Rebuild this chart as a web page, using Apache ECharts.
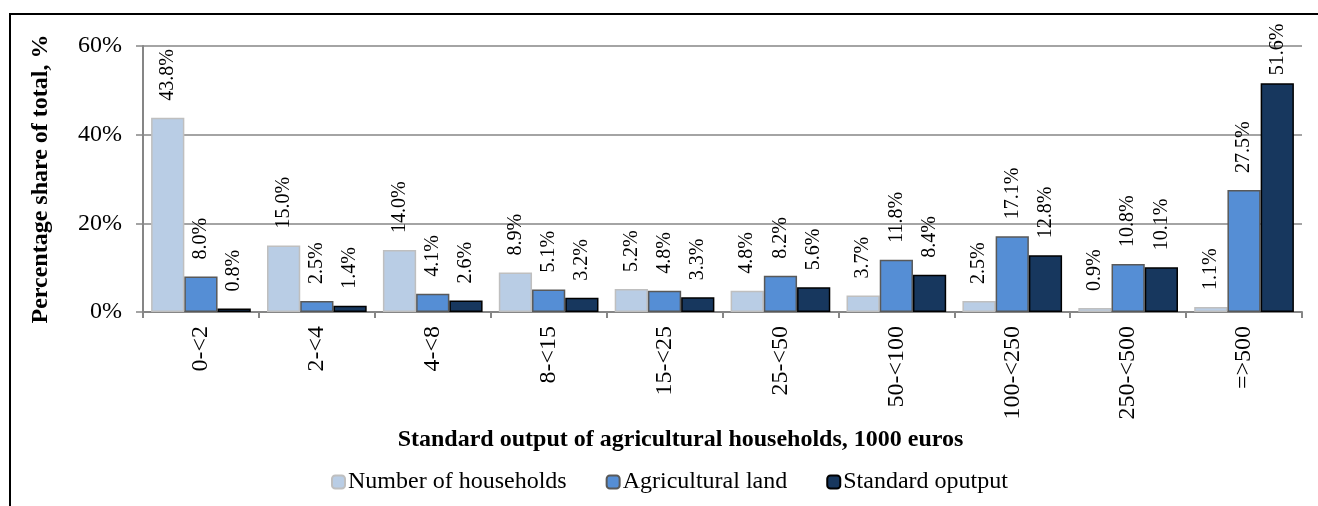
<!DOCTYPE html>
<html>
<head>
<meta charset="utf-8">
<script src="https://cdn.jsdelivr.net/npm/echarts@6/dist/echarts.min.js"></script>
<style>html,body{margin:0;padding:0;background:#fff}#c{width:1318px;height:506px}</style>
</head>
<body>
<div id="c"></div>
<script>
const categories = ['0-<2','2-<4','4-<8','8-<15','15-<25','25-<50','50-<100','100-<250','250-<500','=>500'];
const households = [43.8, 15.0, 14.0, 8.9, 5.2, 4.8, 3.7, 2.5, 0.9, 1.1];
const agriLand = [8.0, 2.5, 4.1, 5.1, 4.8, 8.2, 11.8, 17.1, 10.8, 27.5];
const stdOutput = [0.8, 1.4, 2.6, 3.2, 3.3, 5.6, 8.4, 12.8, 10.1, 51.6];
const seriesNames = ['Number of households', 'Agricultural land', 'Standard oputput'];
const yTicks = {min: 0, max: 60, interval: 20};

const FONT = '"Liberation Serif", "Times New Roman", serif';
const chart = echarts.init(document.getElementById('c'));

function label() {
  return {
    show: true, position: 'top', rotate: 90, align: 'left', verticalAlign: 'middle',
    distance: 17, fontFamily: FONT, fontSize: 20, color: '#000',
    formatter: p => p.value.toFixed(1) + '%'
  };
}
function mk(name, data, color, border) {
  return {
    name, type: 'bar', data, barGap: '0%', barCategoryGap: '14%',
    itemStyle: {color, borderColor: border, borderWidth: 1.5},
    label: label()
  };
}
const s3 = mk(seriesNames[2], stdOutput, '#17375e', '#000');
// the tallest label is pulled in to stay inside the chart frame
s3.data = stdOutput.map((v, i) => i === stdOutput.length - 1 ? {value: v, label: {distance: 8}} : v);

chart.setOption({
  animation: false,
  textStyle: {fontFamily: FONT},
  graphic: [{type: 'rect', shape: {x: 10, y: 14, width: 1400, height: 600}, style: {fill: 'none', stroke: '#000', lineWidth: 2}, silent: true}],
  grid: {left: 143, right: 16, top: 46, bottom: 194},
  legend: {
    bottom: 7, left: 326, itemWidth: 13, itemHeight: 13, itemGap: 39,
    textStyle: {fontFamily: FONT, fontSize: 24, color: '#000', padding: [0, 0, 0, -2]},
    data: seriesNames
  },
  xAxis: {
    type: 'category', data: categories,
    name: 'Standard output of agricultural households, 1000 euros',
    nameLocation: 'middle', nameGap: 101,
    nameTextStyle: {fontFamily: FONT, fontSize: 24, fontWeight: 'bold', color: '#000', padding: [0, 84, 0, 0]},
    axisLine: {lineStyle: {color: '#868686', width: 2}},
    axisTick: {show: true, length: 6, lineStyle: {color: '#868686', width: 2}},
    axisLabel: {rotate: 90, margin: 14, fontFamily: FONT, fontSize: 24, color: '#000'}
  },
  yAxis: {
    type: 'value', min: yTicks.min, max: yTicks.max, interval: yTicks.interval,
    name: 'Percentage share of total, %', nameLocation: 'middle', nameGap: 90,
    nameTextStyle: {fontFamily: FONT, fontSize: 24, fontWeight: 'bold', color: '#000'},
    axisLine: {show: true, lineStyle: {color: '#868686', width: 2}},
    axisTick: {show: true, length: 7, lineStyle: {color: '#868686', width: 1.5}},
    axisLabel: {margin: 21, fontFamily: FONT, fontSize: 24, color: '#000', formatter: '{value}%'},
    splitLine: {lineStyle: {color: '#868686', width: 1.5}}
  },
  series: [
    mk(seriesNames[0], households, '#b9cde5', '#bfbfbf'),
    mk(seriesNames[1], agriLand, '#558ed5', '#595959'),
    s3
  ]
});
</script>
</body>
</html>
